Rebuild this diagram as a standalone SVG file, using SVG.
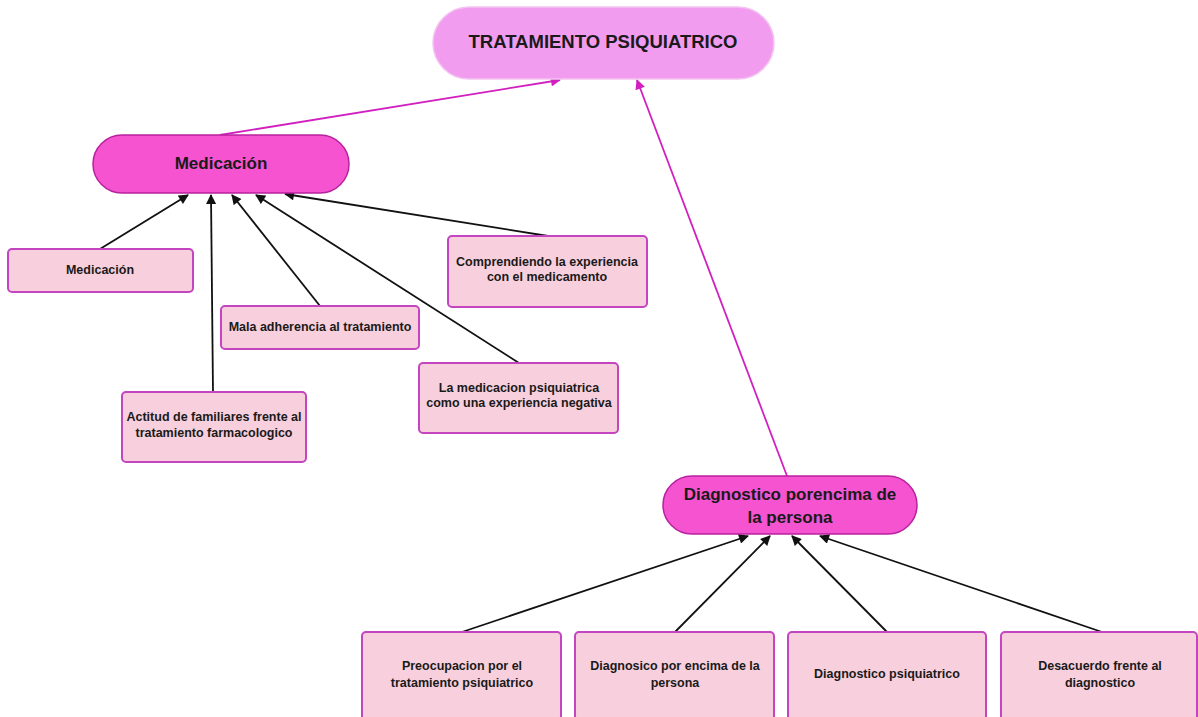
<svg xmlns="http://www.w3.org/2000/svg" width="1198" height="717" viewBox="0 0 1198 717">
<style>
text{font-family:"Liberation Sans",Arial,sans-serif;font-weight:bold;fill:#1a1a1a;text-anchor:middle}
.box{fill:#f8d0dd;stroke:#c445c0;stroke-width:2}
.pill{fill:#f553d0;stroke:#b8229f;stroke-width:1.5}
.top{fill:#f29cf0;stroke:#f3c4f0;stroke-width:1.5}
.s{font-size:12.5px}
.b{font-size:17px}
.blk{stroke:#111;stroke-width:1.8;fill:none;marker-end:url(#ab)}
.mag{stroke:#d11fc0;stroke-width:1.8;fill:none;marker-end:url(#am)}
</style>
<defs>
<marker id="ab" viewBox="0 0 10 10" refX="9" refY="5" markerWidth="11" markerHeight="10" markerUnits="userSpaceOnUse" orient="auto"><path d="M0,0L10,5L0,10z" fill="#111"/></marker>
<marker id="am" viewBox="0 0 10 10" refX="9" refY="5" markerWidth="12" markerHeight="10" markerUnits="userSpaceOnUse" orient="auto"><path d="M0,0L10,5L0,10z" fill="#d11fc0"/></marker>
</defs>
<rect width="1198" height="717" fill="#fff"/>
<g id="connectors">
<line class="mag" x1="220" y1="135" x2="560" y2="80"/>
<line class="mag" x1="787" y1="476" x2="637" y2="80"/>
<line class="blk" x1="100" y1="249" x2="188" y2="195"/>
<line class="blk" x1="213" y1="392" x2="211" y2="195"/>
<line class="blk" x1="320" y1="306" x2="232" y2="195"/>
<line class="blk" x1="519" y1="363" x2="256" y2="195"/>
<line class="blk" x1="548" y1="236" x2="285" y2="194"/>
<line class="blk" x1="462" y1="632" x2="748" y2="536"/>
<line class="blk" x1="675" y1="632" x2="770" y2="536"/>
<line class="blk" x1="887" y1="632" x2="792" y2="536"/>
<line class="blk" x1="1102" y1="632" x2="820" y2="536"/>
</g>
<g id="n-tratamiento"><rect class="top" x="433" y="7" width="341" height="72" rx="36"/><text x="603" y="48" style="font-size:18.5px">TRATAMIENTO PSIQUIATRICO</text></g>
<g id="n-medicacion-pill"><rect class="pill" x="93" y="135" width="256" height="58" rx="29"/><text class="b" x="221" y="169">Medicación</text></g>
<g id="n-medicacion"><rect class="box" x="8" y="249" width="185" height="43" rx="4"/><text class="s" x="100" y="274">Medicación</text></g>
<g id="n-mala"><rect class="box" x="221" y="306" width="198" height="43" rx="4"/><text class="s" x="320" y="331">Mala adherencia al tratamiento</text></g>
<g id="n-actitud"><rect class="box" x="122" y="392" width="184" height="70" rx="4"/><text class="s" x="214" y="421">Actitud de familiares frente al</text><text class="s" x="214" y="437">tratamiento farmacologico</text></g>
<g id="n-comprendiendo"><rect class="box" x="448" y="236" width="199" height="71" rx="4"/><text class="s" x="547" y="266">Comprendiendo la experiencia</text><text class="s" x="547" y="281">con el medicamento</text></g>
<g id="n-lamedicacion"><rect class="box" x="419" y="363" width="199" height="70" rx="4"/><text class="s" x="519" y="392">La medicacion psiquiatrica</text><text class="s" x="519" y="407">como una experiencia negativa</text></g>
<g id="n-diagnostico-pill"><rect class="pill" x="663" y="476" width="254" height="58" rx="29"/><text class="b" x="790" y="500">Diagnostico porencima de</text><text class="b" x="790" y="523">la persona</text></g>
<g id="n-preocupacion"><rect class="box" x="362" y="632" width="199" height="88" rx="4"/><text class="s" x="462" y="670">Preocupacion por el</text><text class="s" x="462" y="687">tratamiento psiquiatrico</text></g>
<g id="n-diagnosico"><rect class="box" x="575" y="632" width="199" height="88" rx="4"/><text class="s" x="675" y="670">Diagnosico por encima de la</text><text class="s" x="675" y="687">persona</text></g>
<g id="n-diagnostico"><rect class="box" x="788" y="632" width="198" height="88" rx="4"/><text class="s" x="887" y="678">Diagnostico psiquiatrico</text></g>
<g id="n-desacuerdo"><rect class="box" x="1001" y="632" width="196" height="88" rx="4"/><text class="s" x="1100" y="670">Desacuerdo frente al</text><text class="s" x="1100" y="687">diagnostico</text></g>
</svg>
